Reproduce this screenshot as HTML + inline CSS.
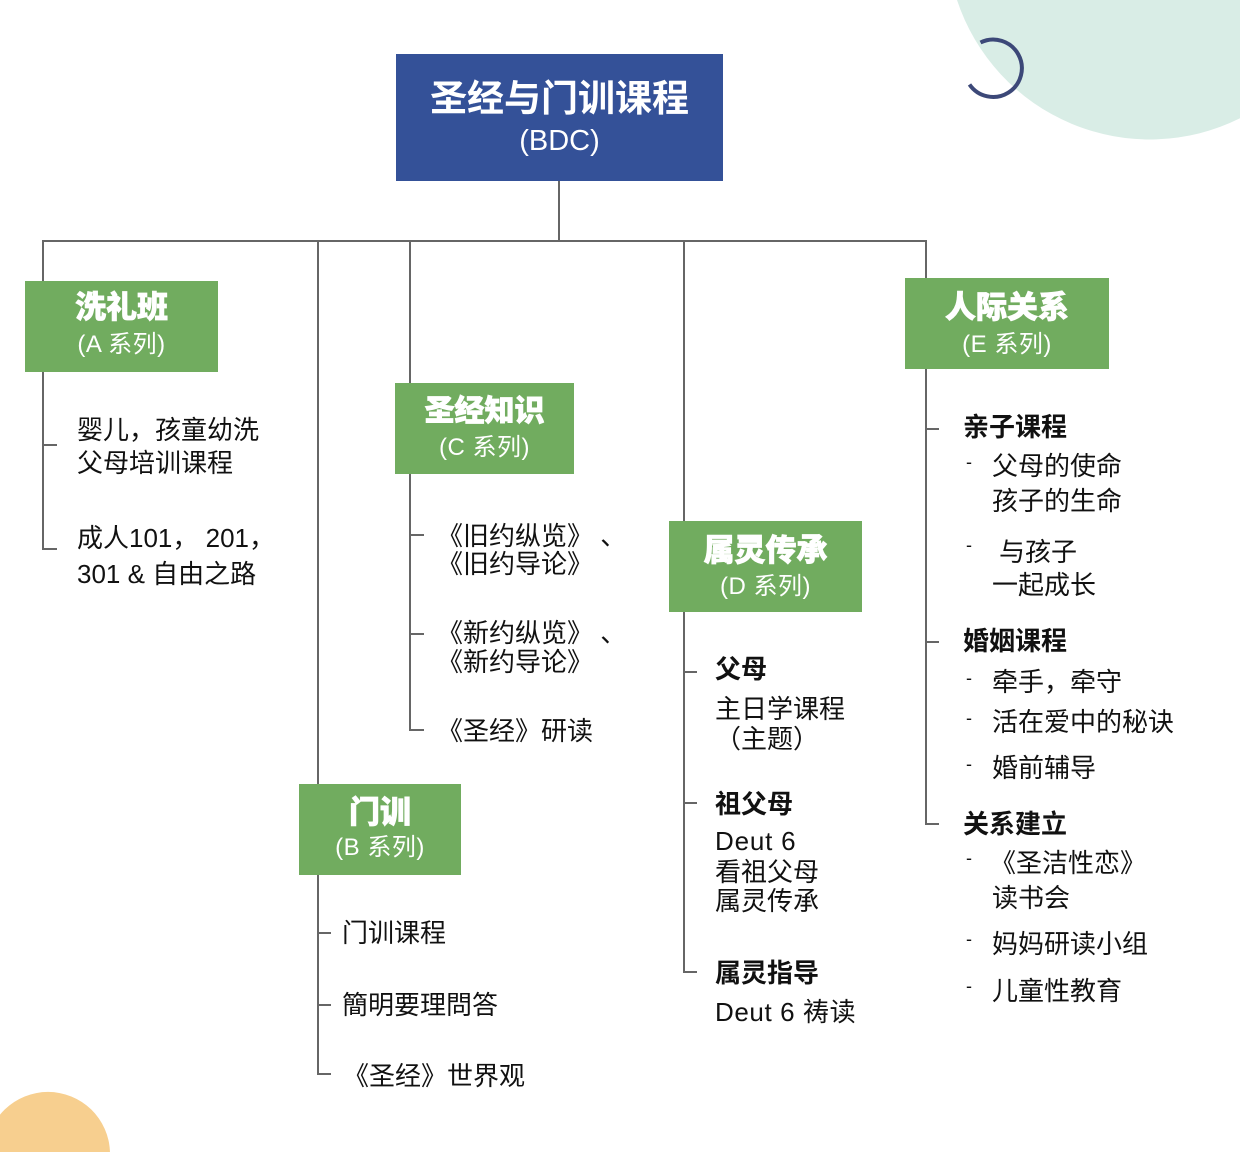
<!DOCTYPE html>
<html>
<head>
<meta charset="utf-8">
<style>
html,body{margin:0;padding:0;width:1240px;height:1152px;overflow:hidden;}
body{position:relative;background:#fff;
font-family:"Liberation Sans","Noto Sans CJK SC",sans-serif;color:#111;}
svg.bg{position:absolute;left:0;top:0;display:block;}
.box{position:absolute;color:#fff;}
.green{background:#71ac5f;}
.blue{background:#345198;}
.bt{position:absolute;left:0;width:100%;text-align:center;white-space:nowrap;}
.tt{font-size:31px;line-height:40px;font-weight:900;-webkit-text-stroke:0.7px #fff;}
.st{font-size:24px;line-height:30px;font-weight:400;letter-spacing:0.5px;}
.t{position:absolute;font-size:26px;line-height:34px;white-space:nowrap;}
.b{font-weight:700;}
.d{position:absolute;font-size:18px;line-height:20px;}
</style>
</head>
<body>
<svg class="bg" width="1240" height="1152" viewBox="0 0 1240 1152">
  <path d="M 957 0 A 203 203 0 0 0 1240 118.3 L 1240 0 Z" fill="#d9ede6"/>
  <path d="M -13.97 1152 A 62 62 0 0 1 109.97 1152 Z" fill="#f7cf8f"/>
  <path d="M 980.5 42.5 A 28.7 28.7 0 1 1 969.5 84.5" fill="none" stroke="#3c4878" stroke-width="4"/>
  <g stroke="#666" stroke-width="2" fill="none">
    <line x1="559" y1="181" x2="559" y2="241"/>
    <line x1="42" y1="241" x2="927" y2="241"/>
    <line x1="43" y1="241" x2="43" y2="281"/>
    <polyline points="43,372 43,549 57,549"/>
    <line x1="43" y1="445" x2="57" y2="445"/>
    <line x1="318" y1="241" x2="318" y2="784"/>
    <polyline points="318,875 318,1074 331,1074"/>
    <line x1="318" y1="933" x2="331" y2="933"/>
    <line x1="318" y1="1005" x2="331" y2="1005"/>
    <line x1="410" y1="241" x2="410" y2="383"/>
    <polyline points="410,474 410,730 424,730"/>
    <line x1="410" y1="535" x2="424" y2="535"/>
    <line x1="410" y1="634" x2="424" y2="634"/>
    <line x1="684" y1="241" x2="684" y2="521"/>
    <polyline points="684,611 684,972 697,972"/>
    <line x1="684" y1="672" x2="697" y2="672"/>
    <line x1="684" y1="803" x2="697" y2="803"/>
    <line x1="926" y1="241" x2="926" y2="278"/>
    <polyline points="926,368 926,824 939,824"/>
    <line x1="926" y1="429" x2="939" y2="429"/>
    <line x1="926" y1="642" x2="939" y2="642"/>
  </g>
</svg>

<div class="box blue" style="left:396px;top:54px;width:327px;height:127px;">
  <div class="bt" style="top:23px;font-size:37px;line-height:44px;font-weight:700;">圣经与门训课程</div>
  <div class="bt" style="top:70px;font-size:29px;line-height:34px;">(BDC)</div>
</div>

<div class="box green" style="left:25px;top:281px;width:193px;height:91px;">
  <div class="bt tt" style="top:7px;">洗礼班</div>
  <div class="bt st" style="top:49px;">(A 系列)</div>
</div>
<div class="box green" style="left:395px;top:383px;width:179px;height:91px;">
  <div class="bt tt" style="top:9px;font-size:30px;">圣经知识</div>
  <div class="bt st" style="top:50px;">(C 系列)</div>
</div>
<div class="box green" style="left:299px;top:784px;width:162px;height:91px;">
  <div class="bt tt" style="top:9px;">门训</div>
  <div class="bt st" style="top:49px;">(B 系列)</div>
</div>
<div class="box green" style="left:669px;top:521px;width:193px;height:91px;">
  <div class="bt tt" style="top:10px;">属灵传承</div>
  <div class="bt st" style="top:51px;">(D 系列)</div>
</div>
<div class="box green" style="left:905px;top:278px;width:204px;height:91px;">
  <div class="bt tt" style="top:10px;">人际关系</div>
  <div class="bt st" style="top:52px;">(E 系列)</div>
</div>

<div class="t" style="left:77px;top:413px;">婴儿，孩童幼洗</div>
<div class="t" style="left:77px;top:446px;">父母培训课程</div>
<div class="t" style="left:77px;top:521px;">成人101， 201，</div>
<div class="t" style="left:77px;top:557px;">301 &amp; 自由之路</div>

<div class="t" style="left:437px;top:519px;">《旧约纵览》 、</div>
<div class="t" style="left:437px;top:547px;">《旧约导论》</div>
<div class="t" style="left:437px;top:616px;">《新约纵览》 、</div>
<div class="t" style="left:437px;top:645px;">《新约导论》</div>
<div class="t" style="left:437px;top:714px;">《圣经》研读</div>

<div class="t" style="left:342px;top:916px;">门训课程</div>
<div class="t" style="left:342px;top:988px;">簡明要理問答</div>
<div class="t" style="left:343px;top:1059px;">《圣经》世界观</div>

<div class="t b" style="left:715px;top:652px;">父母</div>
<div class="t" style="left:715px;top:692px;">主日学课程</div>
<div class="t" style="left:715px;top:722px;">（主题）</div>
<div class="t b" style="left:715px;top:787px;">祖父母</div>
<div class="t" style="left:715px;top:824px;letter-spacing:0.8px;">Deut 6</div>
<div class="t" style="left:715px;top:855px;">看祖父母</div>
<div class="t" style="left:715px;top:884px;">属灵传承</div>
<div class="t b" style="left:715px;top:956px;">属灵指导</div>
<div class="t" style="left:715px;top:995px;letter-spacing:0.6px;">Deut 6 祷读</div>

<div class="t b" style="left:963px;top:410px;">亲子课程</div>
<div class="d" style="left:966px;top:452px;">-</div>
<div class="t" style="left:992px;top:449px;">父母的使命</div>
<div class="t" style="left:992px;top:484px;">孩子的生命</div>
<div class="d" style="left:966px;top:535px;">-</div>
<div class="t" style="left:999px;top:535px;">与孩子</div>
<div class="t" style="left:992px;top:568px;">一起成长</div>
<div class="t b" style="left:963px;top:624px;">婚姻课程</div>
<div class="d" style="left:966px;top:668px;">-</div>
<div class="t" style="left:992px;top:665px;">牵手，牵守</div>
<div class="d" style="left:966px;top:708px;">-</div>
<div class="t" style="left:992px;top:705px;">活在爱中的秘诀</div>
<div class="d" style="left:966px;top:754px;">-</div>
<div class="t" style="left:992px;top:751px;">婚前辅导</div>
<div class="t b" style="left:963px;top:807px;">关系建立</div>
<div class="d" style="left:966px;top:848px;">-</div>
<div class="t" style="left:990px;top:846px;">《圣洁性恋》</div>
<div class="t" style="left:992px;top:881px;">读书会</div>
<div class="d" style="left:966px;top:929px;">-</div>
<div class="t" style="left:992px;top:927px;">妈妈研读小组</div>
<div class="d" style="left:966px;top:976px;">-</div>
<div class="t" style="left:992px;top:974px;">儿童性教育</div>
</body>
</html>
